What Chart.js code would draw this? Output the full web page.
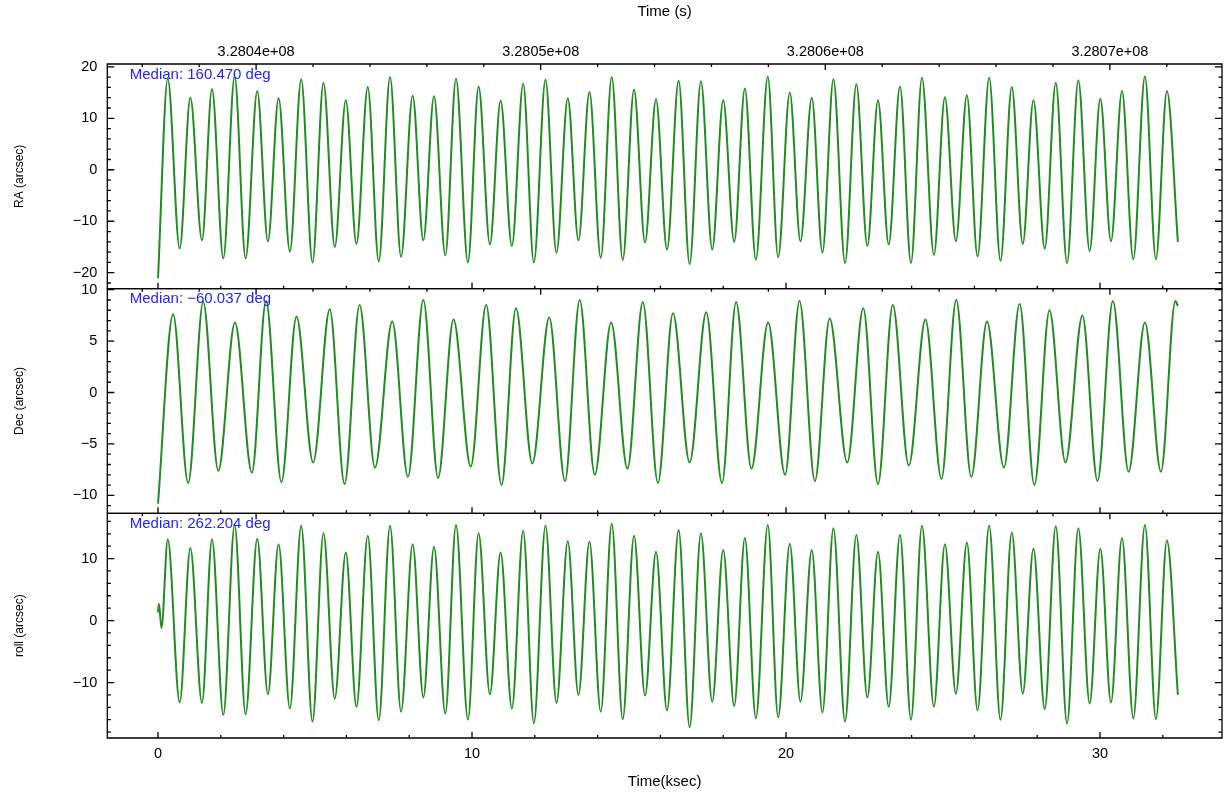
<!DOCTYPE html>
<html>
<head>
<meta charset="utf-8">
<script src="https://cdn.jsdelivr.net/npm/chart.js@4.4.1/dist/chart.umd.min.js"></script>
<style>
html,body{margin:0;padding:0;background:#fff;overflow:hidden}
#wrap{width:1225px;height:794px;position:relative}
</style>
</head>
<body>
<div id="wrap"><canvas id="c" width="1225" height="794"></canvas></div>
<script>
// ---- data (time in ksec, offsets in arcsec) ----
const raTime = [0.00, 0.31, 0.69, 1.03, 1.40, 1.72, 2.08, 2.44, 2.79, 3.16, 3.50, 3.84, 4.20, 4.56, 4.92, 5.27, 5.63, 5.98, 6.32, 6.68, 7.03, 7.39, 7.74, 8.11, 8.45, 8.79, 9.15, 9.49, 9.87, 10.21, 10.57, 10.91, 11.27, 11.63, 11.97, 12.34, 12.69, 13.05, 13.39, 13.74, 14.10, 14.45, 14.80, 15.16, 15.51, 15.86, 16.21, 16.58, 16.93, 17.29, 17.65, 18.00, 18.35, 18.69, 19.04, 19.42, 19.75, 20.12, 20.46, 20.82, 21.16, 21.51, 21.88, 22.24, 22.59, 22.93, 23.27, 23.63, 23.98, 24.33, 24.71, 25.06, 25.41, 25.76, 26.10, 26.47, 26.83, 27.19, 27.54, 27.88, 28.24, 28.59, 28.95, 29.31, 29.67, 30.01, 30.35, 30.70, 31.06, 31.43, 31.78, 32.13, 32.48];
const raVal = [-21.1, 17.7, -15.3, 14.0, -13.7, 15.7, -17.2, 18.1, -17.2, 15.3, -13.9, 13.9, -15.9, 17.6, -18.0, 16.9, -15.0, 13.5, -14.4, 16.1, -17.8, 18.0, -16.9, 14.4, -13.7, 14.3, -16.6, 17.7, -18.0, 16.2, -14.5, 13.4, -14.8, 16.7, -18.0, 17.5, -16.1, 13.9, -13.7, 15.1, -17.1, 18.0, -17.5, 15.6, -14.1, 13.7, -15.5, 17.3, -18.3, 17.2, -15.5, 13.5, -14.0, 15.8, -17.5, 18.1, -17.0, 15.0, -13.9, 14.0, -16.1, 17.6, -18.1, 16.6, -14.8, 13.5, -14.5, 16.2, -18.1, 17.9, -16.5, 14.1, -13.9, 14.5, -16.8, 17.9, -17.7, 16.1, -14.4, 13.5, -15.3, 16.9, -18.1, 17.4, -15.8, 13.8, -13.9, 15.3, -17.4, 18.1, -17.4, 15.3, -14.0];

const decTime = [0.00, 0.48, 0.96, 1.44, 1.92, 2.45, 2.99, 3.44, 3.93, 4.41, 4.94, 5.47, 5.94, 6.42, 6.91, 7.46, 7.96, 8.45, 8.92, 9.41, 9.96, 10.45, 10.94, 11.40, 11.92, 12.46, 12.96, 13.43, 13.91, 14.43, 14.95, 15.44, 15.92, 16.40, 16.93, 17.46, 17.96, 18.41, 18.90, 19.43, 19.97, 20.43, 20.92, 21.39, 21.95, 22.46, 22.93, 23.40, 23.91, 24.44, 24.95, 25.42, 25.90, 26.40, 26.94, 27.44, 27.91, 28.39, 28.90, 29.44, 29.92, 30.41, 30.91, 31.43, 31.94, 32.40, 32.48];
const decVal = [-10.8, 7.6, -8.8, 8.8, -7.6, 6.8, -7.8, 8.9, -8.7, 7.4, -6.8, 8.1, -8.9, 8.5, -7.3, 6.9, -8.2, 9.0, -8.3, 7.1, -7.2, 8.5, -9.0, 8.2, -6.9, 7.3, -8.6, 9.0, -8.0, 6.8, -7.4, 8.8, -8.8, 7.7, -6.8, 7.8, -8.8, 8.8, -7.4, 6.8, -8.0, 8.9, -8.6, 7.2, -6.8, 8.2, -8.9, 8.5, -7.1, 7.1, -8.4, 9.0, -8.2, 6.9, -7.3, 8.6, -9.0, 8.0, -6.8, 7.5, -8.6, 8.9, -7.7, 6.8, -7.7, 8.9, 8.4];

const rollTime = [0.00, 0.03, 0.11, 0.31, 0.69, 1.03, 1.40, 1.72, 2.08, 2.44, 2.79, 3.16, 3.50, 3.84, 4.20, 4.56, 4.92, 5.27, 5.63, 5.98, 6.32, 6.68, 7.03, 7.39, 7.74, 8.11, 8.45, 8.79, 9.15, 9.49, 9.87, 10.21, 10.57, 10.91, 11.27, 11.63, 11.97, 12.34, 12.69, 13.05, 13.39, 13.74, 14.10, 14.45, 14.80, 15.16, 15.51, 15.86, 16.21, 16.58, 16.93, 17.29, 17.65, 18.00, 18.35, 18.69, 19.04, 19.42, 19.75, 20.12, 20.46, 20.82, 21.16, 21.51, 21.88, 22.24, 22.59, 22.93, 23.27, 23.63, 23.98, 24.33, 24.71, 25.06, 25.41, 25.76, 26.10, 26.47, 26.83, 27.19, 27.54, 27.88, 28.24, 28.59, 28.95, 29.31, 29.67, 30.01, 30.35, 30.70, 31.06, 31.43, 31.78, 32.13, 32.48];
const rollVal = [1.3, 2.7, -1.2, 13.1, -13.2, 11.7, -13.3, 13.1, -15.2, 15.4, -15.1, 13.2, -11.9, 12.3, -14.2, 15.3, -16.3, 14.1, -12.6, 11.0, -13.9, 13.7, -16.1, 15.3, -14.7, 12.3, -12.4, 11.9, -15.0, 15.4, -16.0, 14.1, -11.9, 11.0, -14.2, 14.5, -16.6, 15.3, -13.3, 12.8, -12.0, 12.7, -14.7, 15.6, -15.9, 13.7, -12.1, 11.1, -14.5, 14.6, -17.2, 14.1, -13.1, 11.4, -13.8, 13.3, -15.8, 15.4, -15.6, 12.4, -13.1, 11.4, -14.8, 14.9, -16.3, 13.8, -12.4, 11.1, -13.9, 13.8, -16.0, 15.3, -13.9, 12.3, -11.8, 12.6, -14.5, 15.3, -16.0, 14.2, -11.8, 11.6, -14.3, 15.2, -16.6, 14.9, -13.4, 11.6, -13.2, 13.3, -15.8, 15.4, -15.9, 12.9, -12.0];

// ---- tick labels and texts ----
const bottomTicks = [0, 10, 20, 30];
const topTicks = [328040000, 328050000, 328060000, 328070000];
const raTicks = [-20, -10, 0, 10, 20];
const decTicks = [-10, -5, 0, 5, 10];
const rollTicks = [-10, 0, 10];
const panelTitles = ['RA (arcsec)', 'Dec (arcsec)', 'roll (arcsec)'];
const medianLabels = ['Median: 160.470 deg', 'Median: \u221260.037 deg', 'Median: 262.204 deg'];
const bottomTitle = 'Time(ksec)';
const topTitle = 'Time (s)';

// ---- styling ----
const FONT = '"Liberation Sans", Arial, Helvetica, sans-serif';
const GREEN = '#228B22';
const panels = [
  {id: 'yRA', ticks: raTicks, minor: 2},
  {id: 'yDec', ticks: decTicks, minor: 1},
  {id: 'yRoll', ticks: rollTicks, minor: 2}
];

function fmtY(v) { return v < 0 ? '\u2212' + Math.abs(v) : String(v); }

function yScale(tickArr, min, max, title) {
  return {
    type: 'linear', position: 'left', stack: 'panels', stackWeight: 1,
    min: min, max: max,
    grid: {display: false, drawTicks: false},
    border: {display: false},
    ticks: {padding: 10, autoSkip: false, color: '#000', font: {family: FONT, size: 14.5}, callback: fmtY},
    afterBuildTicks: s => { s.ticks = tickArr.map(v => ({value: v})); },
    afterFit: s => { s.width = 107.3; },
    title: {display: true, text: title, color: '#000', font: {family: FONT, size: 12}, padding: {top: 12.8, bottom: 0}}
  };
}

function series(t, v, yid) {
  return {
    data: t.map((x, i) => ({x: x, y: v[i]})),
    xAxisID: 'x', yAxisID: yid,
    borderColor: GREEN, borderWidth: 2, pointRadius: 0, pointHoverRadius: 0,
    cubicInterpolationMode: 'monotone', fill: false
  };
}

const framePlugin = {
  id: 'frames',
  afterDraw(chart) {
    const ctx = chart.ctx, ca = chart.chartArea;
    const xb = chart.scales.x, xt = chart.scales.x2;
    ctx.save();
    ctx.strokeStyle = '#000';
    ctx.lineWidth = 1.3;
    panels.forEach((p, k) => {
      const ys = chart.scales[p.id];
      const top = ys.top, bot = ys.bottom;
      ctx.beginPath();
      ctx.rect(ca.left, top, ca.right - ca.left, bot - top);
      for (let v = Math.ceil(ys.min / p.minor) * p.minor; v <= ys.max + 1e-9; v += p.minor) {
        const y = ys.getPixelForValue(v);
        const L = p.ticks.includes(Math.round(v)) ? 7 : 3.5;
        ctx.moveTo(ca.left, y); ctx.lineTo(ca.left + L, y);
        ctx.moveTo(ca.right, y); ctx.lineTo(ca.right - L, y);
      }
      for (let v = Math.ceil(xb.min / 2) * 2; v <= xb.max; v += 2) {
        const x = xb.getPixelForValue(v);
        const L = bottomTicks.includes(v) ? 6 : 3;
        ctx.moveTo(x, bot); ctx.lineTo(x, bot - L);
      }
      for (let v = Math.ceil(xt.min / 2000) * 2000; v <= xt.max; v += 2000) {
        const x = xt.getPixelForValue(v);
        const L = topTicks.includes(v) ? 6 : 3;
        ctx.moveTo(x, top); ctx.lineTo(x, top + L);
      }
      ctx.stroke();
      ctx.fillStyle = '#1f1fff';
      ctx.font = '15px ' + FONT;
      ctx.textAlign = 'left';
      ctx.textBaseline = 'middle';
      ctx.fillText(medianLabels[k], ca.left + 22.4, top + 10.5);
    });
    ctx.restore();
  }
};

new Chart(document.getElementById('c'), {
  type: 'line',
  data: {
    datasets: [
      series(raTime, raVal, 'yRA'),
      series(decTime, decVal, 'yDec'),
      series(rollTime, rollVal, 'yRoll')
    ]
  },
  options: {
    responsive: false,
    animation: false,
    events: [],
    layout: {padding: {left: 0, right: 3, top: 0, bottom: 0}},
    plugins: {legend: {display: false}, tooltip: {enabled: false}},
    scales: {
      x: {
        type: 'linear', position: 'bottom', min: -1.615, max: 33.885,
        grid: {display: false, drawTicks: false},
        border: {display: false},
        ticks: {padding: 7.3, autoSkip: false, maxRotation: 0, color: '#000', font: {family: FONT, size: 14.5}, callback: v => String(v)},
        afterBuildTicks: s => { s.ticks = bottomTicks.map(v => ({value: v})); },
        afterFit: s => { s.height = 56; },
        title: {display: true, text: bottomTitle, color: '#000', font: {family: FONT, size: 15}, padding: {top: 0, bottom: 3.3}}
      },
      x2: {
        type: 'linear', position: 'top', min: 328034772, max: 328073939,
        grid: {display: false, drawTicks: false},
        border: {display: false},
        ticks: {padding: 3, autoSkip: false, maxRotation: 0, color: '#000', font: {family: FONT, size: 14.5},
          callback: v => Number(v).toExponential(4).replace(/e\+(\d)$/, 'e+0$1')},
        afterBuildTicks: s => { s.ticks = topTicks.map(v => ({value: v})); },
        afterFit: s => { s.height = 64; },
        title: {display: true, text: topTitle, color: '#000', font: {family: FONT, size: 15}, padding: {top: 3, bottom: 0}}
      },
      yRoll: yScale(rollTicks, -18.95, 17.3, panelTitles[2]),
      yDec: yScale(decTicks, -11.75, 10.1, panelTitles[1]),
      yRA: yScale(raTicks, -23.1, 20.55, panelTitles[0])
    }
  },
  plugins: [framePlugin]
});
</script>
</body>
</html>
